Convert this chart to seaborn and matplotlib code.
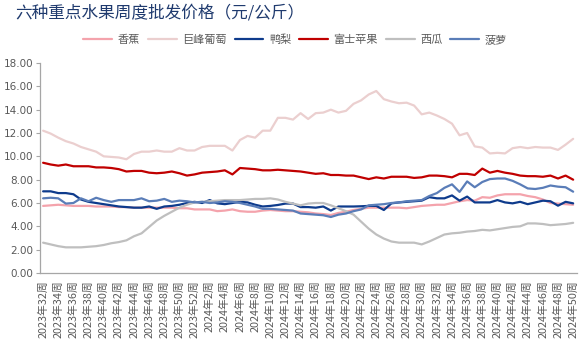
import numpy as np
import pandas as pd
import matplotlib
matplotlib.use("Agg")
import matplotlib.pyplot as plt
import seaborn as sns

# ---- data ----
weeks = [f"2023年{w}周" for w in range(32, 53)] + [f"2024年{w}周" for w in range(1, 51)]

banana = [5.75, 5.8, 5.85, 5.8, 5.75, 5.75, 5.75, 5.7, 5.7, 5.7,
          5.65, 5.65, 5.6, 5.6, 5.6, 5.6, 5.6, 5.6, 5.55, 5.55,
          5.45, 5.45, 5.45, 5.3, 5.35, 5.45, 5.3, 5.25, 5.25, 5.35,
          5.4, 5.35, 5.3, 5.3, 5.25, 5.2, 5.1, 5.05, 4.97, 5.15,
          5.25, 5.4, 5.5, 5.6, 5.6, 5.6, 5.6, 5.6, 5.55, 5.65,
          5.75, 5.8, 5.85, 5.85, 6.0, 6.15, 6.25, 6.2, 6.5, 6.45,
          6.65, 6.75, 6.75, 6.75, 6.6, 6.5, 6.3, 6.0, 5.95, 5.9,
          5.85]

grape = [12.2, 11.95, 11.6, 11.3, 11.1, 10.8, 10.6, 10.4, 10.0, 9.95,
         9.9, 9.75, 10.2, 10.4, 10.4, 10.5, 10.4, 10.4, 10.7, 10.5,
         10.5, 10.8, 10.9, 10.9, 10.9, 10.5, 11.4, 11.75, 11.6, 12.2,
         12.2, 13.3, 13.3, 13.15, 13.7, 13.2, 13.7, 13.75, 14.0, 13.75,
         13.9, 14.5, 14.8, 15.3, 15.6, 14.9, 14.7, 14.55, 14.6, 14.35,
         13.6, 13.75, 13.5, 13.2, 12.8, 11.8, 12.0, 10.85, 10.75, 10.25,
         10.3, 10.25, 10.7, 10.8, 10.7, 10.8, 10.75, 10.75, 10.55, 11.0,
         11.5]

pear = [7.0, 7.0, 6.85, 6.85, 6.75, 6.3, 6.1, 6.0, 5.9, 5.8,
        5.7, 5.65, 5.6, 5.6, 5.7, 5.5, 5.7, 5.75, 5.85, 6.0,
        6.1, 6.0, 6.25, 5.97, 5.9, 6.0, 6.1, 6.05, 5.85, 5.7,
        5.75, 5.83, 5.95, 5.95, 5.65, 5.65, 5.6, 5.7, 5.35, 5.7,
        5.7, 5.7, 5.72, 5.75, 5.75, 5.4, 5.97, 6.05, 6.1, 6.15,
        6.2, 6.5, 6.4, 6.4, 6.65, 6.2, 6.55, 6.05, 6.05, 6.05,
        6.25, 6.05, 5.97, 6.1, 5.9, 6.05, 6.2, 6.15, 5.77, 6.1,
        5.97]

apple = [9.45, 9.3, 9.2, 9.3, 9.15, 9.15, 9.15, 9.05, 9.05, 9.0,
         8.9, 8.7, 8.75, 8.75, 8.6, 8.55, 8.6, 8.7, 8.55, 8.35,
         8.45, 8.6, 8.65, 8.7, 8.8, 8.45, 9.0, 8.95, 8.9, 8.8,
         8.8, 8.85, 8.8, 8.75, 8.7, 8.6, 8.5, 8.55, 8.4, 8.4,
         8.35, 8.35, 8.2, 8.05, 8.2, 8.1, 8.25, 8.25, 8.25, 8.15,
         8.2, 8.35, 8.35, 8.3, 8.2, 8.5, 8.5, 8.4, 8.95, 8.6,
         8.75, 8.6, 8.5, 8.35, 8.3, 8.3, 8.25, 8.35, 8.1, 8.35,
         8.0]

watermelon = [2.6, 2.45, 2.3, 2.2, 2.2, 2.2, 2.25, 2.3, 2.4, 2.55,
              2.65, 2.8, 3.15, 3.4, 3.95, 4.5, 4.9, 5.25, 5.6, 5.85,
              6.05, 6.1, 6.15, 6.2, 6.25, 6.25, 6.25, 6.3, 6.35, 6.35,
              6.4, 6.3, 6.1, 5.95, 5.8, 5.95, 6.0, 6.0, 5.8, 5.55,
              5.3, 5.0, 4.4, 3.8, 3.3, 2.95, 2.7, 2.6, 2.6, 2.6,
              2.45, 2.7, 3.0, 3.3, 3.4, 3.45, 3.55, 3.6, 3.7, 3.65,
              3.75, 3.85, 3.95, 4.0, 4.25, 4.25, 4.2, 4.1, 4.15, 4.2,
              4.3]

pineapple = [6.4, 6.45, 6.4, 5.95, 6.0, 6.4, 6.15, 6.45, 6.25, 6.1,
             6.25, 6.25, 6.25, 6.4, 6.15, 6.2, 6.35, 6.1, 6.2, 6.15,
             6.05, 6.1, 6.0, 6.05, 6.15, 6.1, 6.0, 5.85, 5.7, 5.5,
             5.5, 5.45, 5.4, 5.35, 5.1, 5.05, 5.0, 4.95, 4.8, 5.0,
             5.1, 5.3, 5.45, 5.8, 5.85, 5.9, 6.0, 6.05, 6.15, 6.2,
             6.25, 6.6, 6.85, 7.3, 7.6, 6.95, 7.85, 7.35, 7.8, 8.05,
             8.1, 8.1, 7.9, 7.6, 7.25, 7.2, 7.3, 7.5, 7.4, 7.35,
             6.97]

series_names = ["香蕉", "巨峰葡萄", "鸭梨", "富士苹果", "西瓜", "菠萝"]
series_values = [banana, grape, pear, apple, watermelon, pineapple]
colors = ["#F4A3AC", "#EBCFCF", "#0E3B8C", "#C00000", "#BFBFBF", "#5A7DB8"]
yticks = [0, 2, 4, 6, 8, 10, 12, 14, 16, 18]

# ---- build long-form table ----
rows = []
for name, vals in zip(series_names, series_values):
    for i, v in enumerate(vals):
        rows.append({"idx": i, "week": weeks[i], "fruit": name, "price": v})
df = pd.DataFrame(rows)

sns.set_style("ticks")
plt.rcParams["font.family"] = ["Noto Sans CJK SC", "DejaVu Sans"]

fig = plt.figure(figsize=(5.81, 3.5), dpi=100)
ax = fig.add_axes([0.069, 0.22, 0.924, 0.60])

sns.lineplot(data=df, x="idx", y="price", hue="fruit", hue_order=series_names,
             palette=colors, linewidth=1.6, ax=ax, legend=True)

ax.set_xlim(-0.4, len(weeks) - 0.5)
ax.set_ylim(0, 18)
ax.set_yticks(yticks)
ax.set_yticklabels([f"{t:.2f}" for t in yticks], family="DejaVu Sans",
                   fontsize=7.5, color="#595959")
tick_pos = list(range(0, len(weeks), 2))
ax.set_xticks(tick_pos)
ax.set_xticklabels([weeks[i] for i in tick_pos], rotation=90, fontsize=7.8,
                   color="#595959")
ax.tick_params(axis="x", length=0, pad=5)
ax.tick_params(axis="y", length=3, width=0.8, color="#A6A6A6", pad=2)
ax.set_xlabel("")
ax.set_ylabel("")
for s in ["top", "right"]:
    ax.spines[s].set_visible(False)
for s in ["left", "bottom"]:
    ax.spines[s].set_color("#A6A6A6")
    ax.spines[s].set_linewidth(0.9)

handles, labels = ax.get_legend_handles_labels()
ax.get_legend().remove()
fig.legend(handles, labels, loc="center", bbox_to_anchor=(0.508, 0.886),
           ncol=6, frameon=False, fontsize=8, handlelength=2.6,
           handletextpad=0.5, columnspacing=0.7, labelcolor="#595959")

fig.text(0.026, 0.962, "六种重点水果周度批发价格（元/公斤）", fontsize=12,
         color="#1F3A6E", va="center", ha="left")

fig.savefig("out.png", dpi=100)
